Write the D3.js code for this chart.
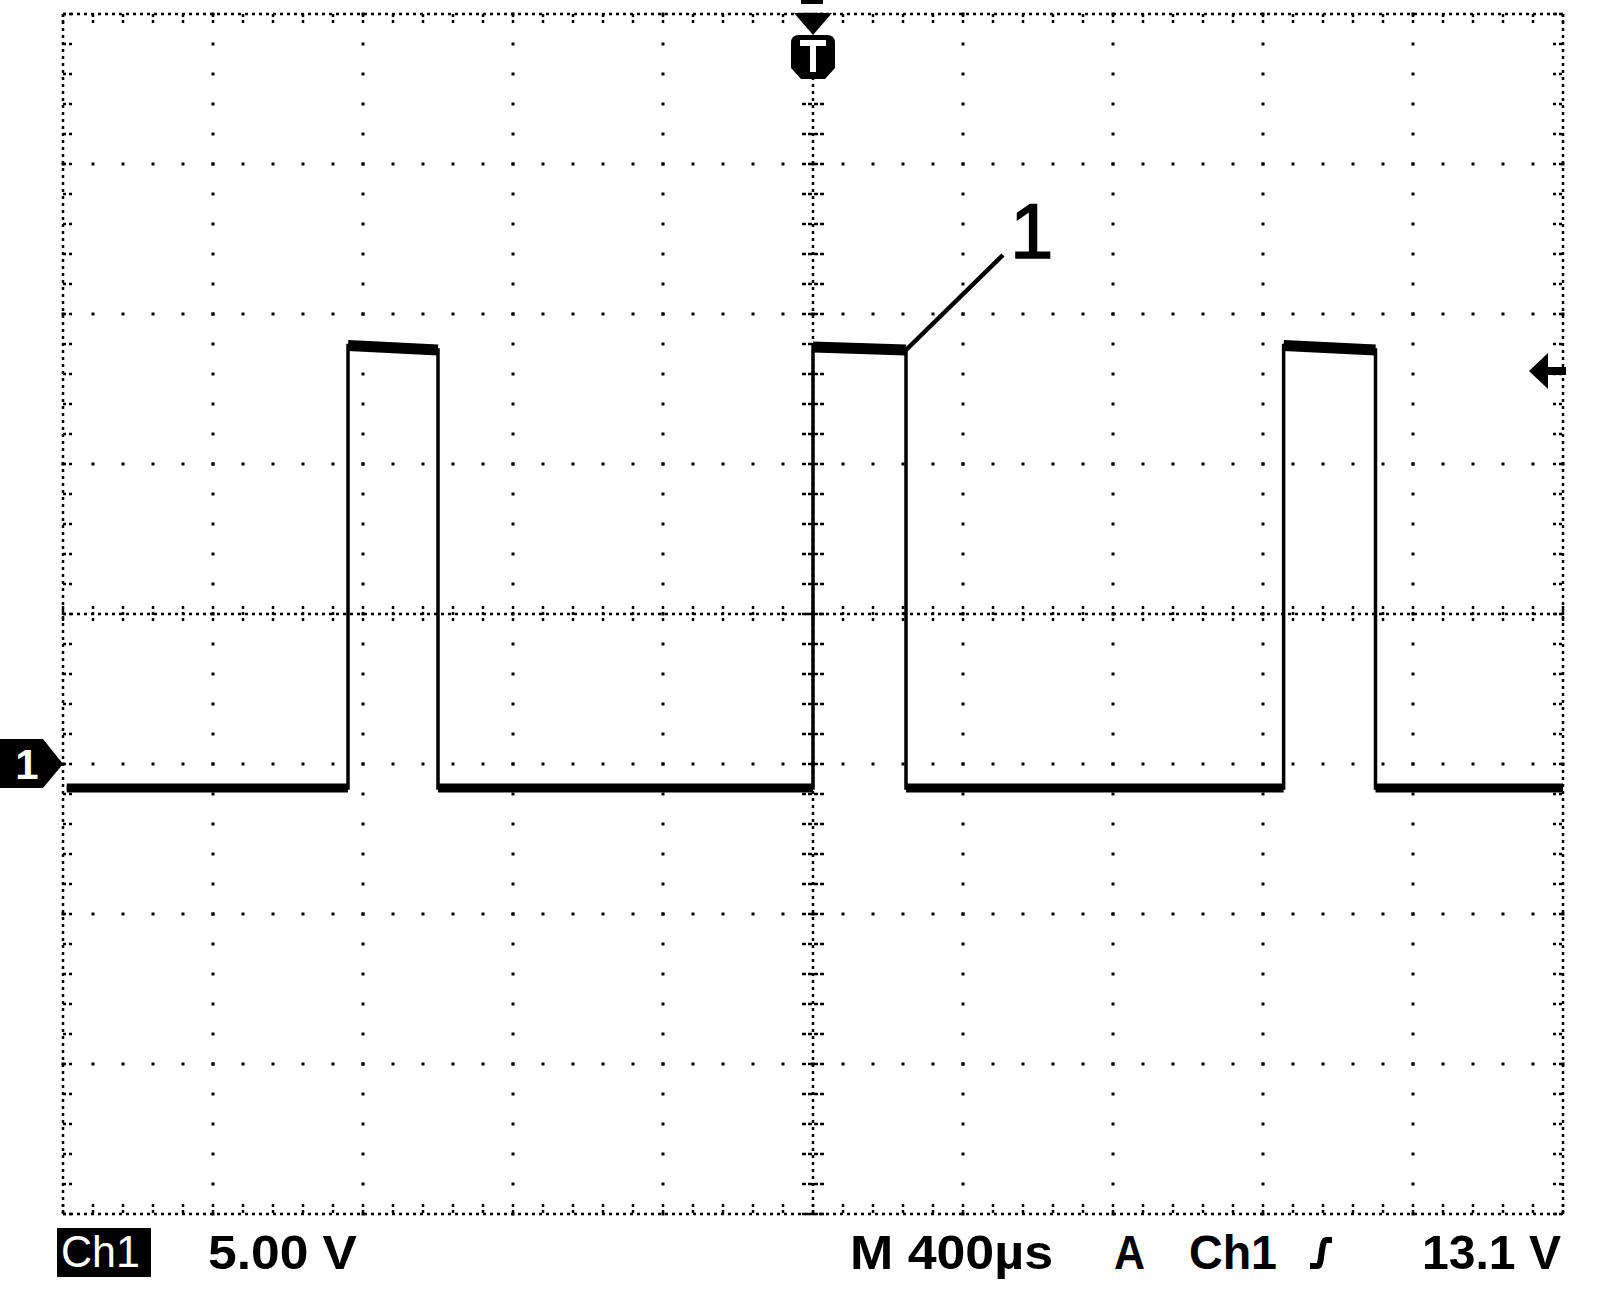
<!DOCTYPE html>
<html>
<head>
<meta charset="utf-8">
<script src="https://cdn.jsdelivr.net/npm/d3@7/dist/d3.min.js"></script>
<style>
  html, body { margin: 0; padding: 0; background: #fff; }
  svg { display: block; }
</style>
</head>
<body>
<script>
// ---- data ----
// time axis: 400 µs / div, 10 divisions, trigger (T) at centre = 0 µs
const timeDomainUs = [-2000, 2000];
const timePerDivUs = 400;
const timeMinorUs = 80;
// voltage axis: 5.00 V / div, 8 divisions, channel-1 ground marker = 0 V
const voltDomain = [-15, 25];
const voltPerDiv = 5;
const voltMinor = 1;
// waveform breakpoints (µs, V)
const traceTimeUs = [-1990, -1240, -1240, -1000, -1000, 0, 0, 248, 248, 1255, 1255, 1500, 1500, 2000];
const traceVolts  = [-0.8, -0.8, 13.95, 13.8, -0.8, -0.8, 13.9, 13.8, -0.8, -0.8, 13.95, 13.8, -0.8, -0.8];
// trigger level
const triggerLevelV = 13.1;
// annotation
const calloutLabel = "1";
const calloutPointUs = 248;
const calloutPointV = 13.8;
// status texts
const chLabel = "Ch1";
const voltsText = "5.00 V";
const timeText = "M 400µs";
const trigModeText = "A";
const trigSrcText = "Ch1";
const trigLevelText = "13.1 V";

// ---- drawing ----
const W = 1600, H = 1306;
const L = 63, R = 1563, T = 14, B = 1214;
const svg = d3.select("body").append("svg").attr("width", W).attr("height", H);
svg.append("rect").attr("width", W).attr("height", H).attr("fill", "#fff");

const x = d3.scaleLinear().domain(timeDomainUs).range([L, R]);
const y = d3.scaleLinear().domain(voltDomain).range([B, T]);

const majT = d3.range(timeDomainUs[0], timeDomainUs[1] + 1, timePerDivUs);
const minT = d3.range(timeDomainUs[0], timeDomainUs[1] + 1, timeMinorUs);
const majV = d3.range(voltDomain[0], voltDomain[1] + 0.01, voltPerDiv);
const minV = d3.range(voltDomain[0], voltDomain[1] + 0.01, voltMinor);
const cT = (timeDomainUs[0] + timeDomainUs[1]) / 2;
const cV = (voltDomain[0] + voltDomain[1]) / 2;

const g = svg.append("g");
const dotted = (x1, y1, x2, y2) => g.append("line")
  .attr("x1", x1).attr("y1", y1).attr("x2", x2).attr("y2", y2)
  .attr("stroke", "#000").attr("stroke-width", 2.5).attr("stroke-dasharray", "3,4");
dotted(x(timeDomainUs[0]), T, x(timeDomainUs[0]), B);
dotted(x(timeDomainUs[1]), T, x(timeDomainUs[1]), B);
dotted(L, y(voltDomain[1]), R, y(voltDomain[1]));
dotted(L, y(voltDomain[0]), R, y(voltDomain[0]));
dotted(x(cT), T, x(cT), B);
dotted(L, y(cV), R, y(cV));

// dots along interior grid lines
majT.forEach(t => {
  if (t === timeDomainUs[0] || t === timeDomainUs[1] || t === cT) return;
  minV.forEach(v => {
    g.append("rect").attr("x", x(t) - 1.5).attr("y", y(v) - 1.5).attr("width", 3).attr("height", 3).attr("fill", "#000");
  });
});
majV.forEach(v => {
  if (v === voltDomain[0] || v === voltDomain[1] || v === cV) return;
  minT.forEach(t => {
    g.append("rect").attr("x", x(t) - 1.5).attr("y", y(v) - 1.5).attr("width", 3).attr("height", 3).attr("fill", "#000");
  });
});

// minor ticks on centre axes
minV.forEach(v => {
  g.append("line").attr("x1", x(cT) - 11).attr("x2", x(cT) + 11).attr("y1", y(v)).attr("y2", y(v))
    .attr("stroke", "#000").attr("stroke-width", 2.5).attr("stroke-dasharray", "4,2");
});
minT.forEach(t => {
  g.append("line").attr("y1", y(cV) - 8).attr("y2", y(cV) + 8).attr("x1", x(t)).attr("x2", x(t))
    .attr("stroke", "#000").attr("stroke-width", 2.5).attr("stroke-dasharray", "3,3");
});
// minor ticks on the borders (inward)
minV.forEach(v => {
  g.append("line").attr("x1", L).attr("x2", L + 10).attr("y1", y(v)).attr("y2", y(v))
    .attr("stroke", "#000").attr("stroke-width", 2.5).attr("stroke-dasharray", "3,3");
  g.append("line").attr("x1", R - 10).attr("x2", R).attr("y1", y(v)).attr("y2", y(v))
    .attr("stroke", "#000").attr("stroke-width", 2.5).attr("stroke-dasharray", "3,3");
});
minT.forEach(t => {
  g.append("line").attr("y1", T).attr("y2", T + 10).attr("x1", x(t)).attr("x2", x(t))
    .attr("stroke", "#000").attr("stroke-width", 2.5).attr("stroke-dasharray", "3,3");
  g.append("line").attr("y1", B - 10).attr("y2", B).attr("x1", x(t)).attr("x2", x(t))
    .attr("stroke", "#000").attr("stroke-width", 2.5).attr("stroke-dasharray", "3,3");
});

// ---- waveform ----
const pts = traceTimeUs.map((t, i) => [t, traceVolts[i]]);
const line = d3.line().x(d => x(d[0])).y(d => y(d[1]));
svg.append("path").attr("d", line(pts)).attr("fill", "none")
  .attr("stroke", "#000").attr("stroke-width", 3.5).attr("stroke-linejoin", "miter");
for (let i = 0; i < pts.length - 1; i++) {
  const a = pts[i], b = pts[i + 1];
  if (a[0] === b[0]) continue;
  const high = a[1] > 5;
  svg.append("path").attr("d", line([a, b])).attr("fill", "none")
    .attr("stroke", "#000").attr("stroke-width", high ? 11 : 9);
}

// ---- trigger marker T at top ----
const tx = x(0);
svg.append("rect").attr("x", tx - 12).attr("y", 0).attr("width", 22).attr("height", 4).attr("fill", "#000");
svg.append("path").attr("d", `M${tx - 19},${T - 1} L${tx + 19},${T - 1} L${tx},${T + 21} Z`).attr("fill", "#000");
svg.append("path")
  .attr("d", `M${tx - 22},${43} Q${tx - 22},${35} ${tx - 14},${35} L${tx + 14},${35} Q${tx + 22},${35} ${tx + 22},${43} L${tx + 22},${68} L${tx + 12},${79} L${tx - 12},${79} L${tx - 22},${68} Z`)
  .attr("fill", "#000");
svg.append("rect").attr("x", tx - 13).attr("y", 40).attr("width", 26).attr("height", 6).attr("fill", "#fff");
svg.append("rect").attr("x", tx - 3).attr("y", 40).attr("width", 6).attr("height", 32).attr("fill", "#fff");

// ---- channel 1 ground marker ----
const gy = y(0);
svg.append("path").attr("d", `M0,${gy - 25} L43,${gy - 25} L63,${gy} L43,${gy + 24} L0,${gy + 24} Z`).attr("fill", "#000");
svg.append("text").attr("x", 27).attr("y", gy + 15).attr("text-anchor", "middle")
  .attr("font-family", "Liberation Sans, Arial, sans-serif").attr("font-weight", "bold")
  .attr("font-size", 42).attr("fill", "#fff").text("1");

// ---- trigger level arrow on the right ----
const ty = y(triggerLevelV);
svg.append("path").attr("d", `M${R - 34},${ty} L${R - 15},${ty - 18} L${R - 15},${ty + 18} Z`).attr("fill", "#000");
svg.append("rect").attr("x", R - 16).attr("y", ty - 4).attr("width", 19).attr("height", 8).attr("fill", "#000");

// ---- callout "1" ----
const cx0 = x(calloutPointUs), cy0 = y(calloutPointV);
svg.append("line").attr("x1", cx0).attr("y1", cy0).attr("x2", cx0 + 97).attr("y2", cy0 - 95)
  .attr("stroke", "#000").attr("stroke-width", 4.5);
svg.append("text").attr("x", 1010).attr("y", 258)
  .attr("font-family", "Liberation Sans, Arial, sans-serif").attr("font-size", 78)
  .attr("stroke", "#000").attr("stroke-width", 1.5).attr("fill", "#000")
  .text(calloutLabel);

// ---- status line ----
svg.append("rect").attr("x", 57).attr("y", 1228).attr("width", 94).attr("height", 49).attr("fill", "#000");
svg.append("text").attr("x", 61).attr("y", 1267).attr("textLength", 79).attr("lengthAdjust", "spacingAndGlyphs")
  .attr("font-family", "Liberation Sans, Arial, sans-serif").attr("font-size", 44).attr("fill", "#fff").text(chLabel);

const st = (txt, x0, w) => svg.append("text").attr("x", x0).attr("y", 1269)
  .attr("textLength", w).attr("lengthAdjust", "spacingAndGlyphs")
  .attr("font-family", "Liberation Sans Narrow, Liberation Sans, Arial, sans-serif")
  .attr("font-weight", "bold").attr("font-size", 48).attr("fill", "#000").text(txt);
st(voltsText, 208, 149);
st(timeText, 850, 203);
st(trigModeText, 1114, 31);
st(trigSrcText, 1189, 88);
st(trigLevelText, 1422, 139);
svg.append("path").attr("d", "M1310,1266 L1318,1266 C1322,1266 1321,1240 1326,1240 L1332,1240")
  .attr("fill", "none").attr("stroke", "#000").attr("stroke-width", 6);
</script>
</body>
</html>
